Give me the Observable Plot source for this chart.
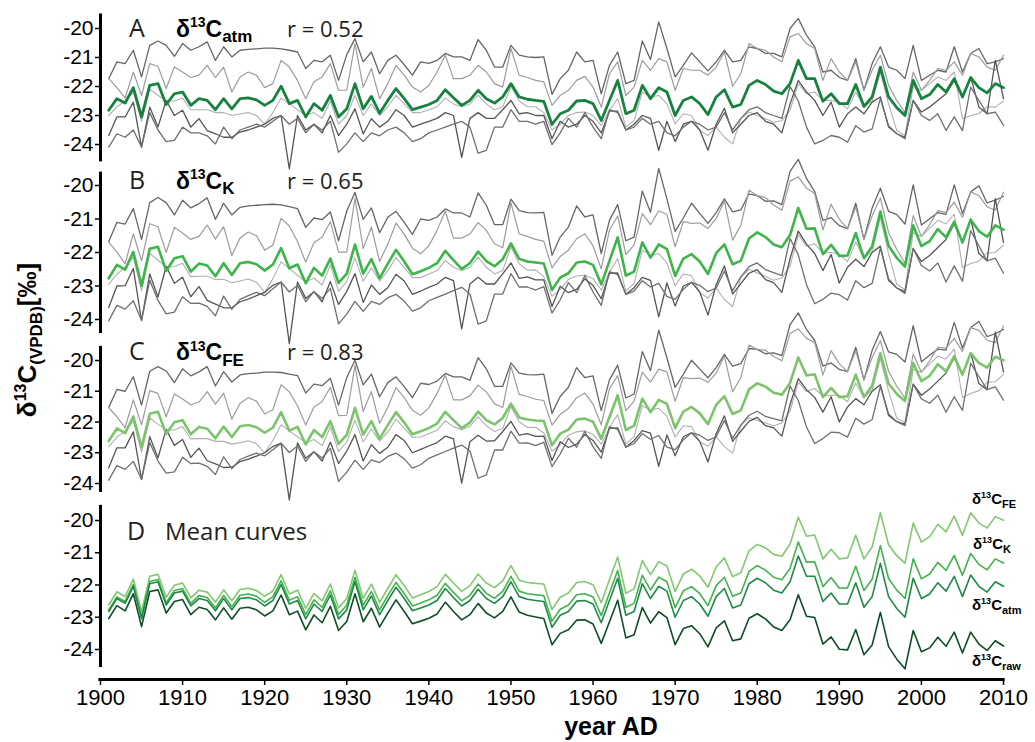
<!DOCTYPE html>
<html><head><meta charset="utf-8">
<script src="https://cdn.jsdelivr.net/npm/d3@7"></script>
<script src="https://cdn.jsdelivr.net/npm/@observablehq/plot@0.6"></script>
<style>
body{margin:0;background:#fff;}
#chart{position:relative;width:1035px;height:742px;overflow:hidden;background:#fff;}
#chart svg{position:absolute;left:0;}
</style></head><body><div id="chart"></div>
<script>
const years = d3.range(1901, 2011);
const xTicks = [1900,1910,1920,1930,1940,1950,1960,1970,1980,1990,2000,2010];
const yTicks = [-24,-23,-22,-21,-20];

// mean δ13C_atm curve (panel A green)
const meanAtm = [
-22.82,-22.42,-22.57,-22.04,-23.05,-21.96,-21.90,-22.62,-22.25,-22.19,
-22.65,-22.42,-22.48,-22.80,-22.42,-22.77,-22.42,-22.39,-22.46,-22.65,
-22.48,-21.99,-22.59,-22.48,-23.05,-22.59,-22.82,-22.31,-23.05,-22.77,
-21.90,-22.77,-22.34,-22.92,-22.48,-22.07,-22.42,-22.80,-22.71,-22.62,
-22.48,-22.11,-22.39,-22.65,-22.48,-22.13,-22.42,-22.57,-22.36,-21.90,
-22.36,-22.44,-22.48,-22.51,-23.31,-22.94,-22.82,-22.50,-22.48,-22.59,
-23.17,-22.48,-21.79,-22.94,-22.82,-21.96,-22.42,-22.04,-22.19,-23.00,
-22.48,-22.36,-22.59,-22.97,-22.36,-22.11,-22.71,-22.62,-21.96,-21.79,
-21.93,-22.16,-22.25,-21.90,-21.10,-21.73,-21.73,-22.51,-22.25,-22.59,
-22.59,-21.93,-22.69,-22.36,-21.33,-22.36,-22.73,-23.00,-21.79,-22.42,
-22.28,-21.93,-22.19,-21.73,-22.36,-21.69,-22.04,-22.22,-21.90,-22.04];

// gap δ13C_atm − δ13C_raw (panel D)
const corrAtm = [
0.22,0.22,0.23,0.23,0.24,0.24,0.25,0.25,0.26,0.26,
0.27,0.27,0.28,0.28,0.29,0.29,0.30,0.30,0.31,0.31,
0.32,0.32,0.33,0.33,0.34,0.34,0.35,0.35,0.36,0.36,
0.37,0.37,0.38,0.38,0.39,0.39,0.40,0.40,0.41,0.41,
0.42,0.42,0.43,0.43,0.44,0.44,0.45,0.45,0.46,0.47,
0.48,0.50,0.51,0.53,0.54,0.56,0.57,0.59,0.60,0.62,
0.64,0.66,0.68,0.70,0.72,0.74,0.76,0.79,0.82,0.85,
0.87,0.90,0.92,0.95,0.97,1.00,1.02,1.05,1.07,1.10,
1.12,1.14,1.16,1.18,1.20,1.24,1.28,1.32,1.36,1.40,
1.42,1.45,1.47,1.50,1.52,1.55,1.57,1.60,1.62,1.65,
1.67,1.69,1.71,1.73,1.75,1.77,1.79,1.81,1.83,1.85];

// gap δ13C_K − δ13C_atm (panel D)
const corrK = [
0.05,0.05,0.06,0.06,0.06,0.07,0.07,0.07,0.08,0.08,
0.08,0.09,0.09,0.09,0.10,0.10,0.10,0.11,0.11,0.11,
0.12,0.12,0.12,0.12,0.13,0.13,0.13,0.13,0.14,0.14,
0.14,0.14,0.14,0.15,0.15,0.15,0.15,0.15,0.15,0.16,
0.16,0.16,0.16,0.16,0.16,0.16,0.16,0.16,0.16,0.17,
0.17,0.17,0.18,0.18,0.19,0.19,0.20,0.20,0.21,0.22,
0.22,0.23,0.24,0.25,0.25,0.26,0.27,0.28,0.29,0.30,
0.30,0.31,0.32,0.33,0.34,0.35,0.36,0.37,0.38,0.39,
0.39,0.40,0.41,0.42,0.43,0.44,0.45,0.46,0.48,0.49,
0.50,0.51,0.52,0.54,0.55,0.56,0.57,0.58,0.60,0.61,
0.62,0.63,0.64,0.65,0.66,0.67,0.68,0.69,0.71,0.72];

// gap δ13C_FE − δ13C_atm (panel D)
const corrFE = [
0.20,0.21,0.21,0.22,0.22,0.23,0.23,0.24,0.24,0.25,
0.25,0.26,0.26,0.27,0.27,0.28,0.28,0.29,0.29,0.30,
0.30,0.31,0.31,0.32,0.32,0.33,0.33,0.34,0.34,0.35,
0.36,0.36,0.37,0.38,0.38,0.39,0.40,0.40,0.41,0.42,
0.43,0.44,0.45,0.45,0.46,0.47,0.48,0.49,0.49,0.50,
0.51,0.52,0.53,0.54,0.55,0.56,0.57,0.58,0.59,0.60,
0.62,0.64,0.66,0.68,0.70,0.72,0.74,0.76,0.78,0.80,
0.82,0.85,0.87,0.90,0.92,0.95,0.97,1.00,1.02,1.05,
1.08,1.11,1.14,1.17,1.20,1.24,1.28,1.32,1.36,1.40,
1.43,1.47,1.50,1.54,1.57,1.61,1.64,1.68,1.71,1.75,
1.78,1.81,1.84,1.87,1.90,1.93,1.96,1.99,2.02,2.05];

// individual trees (δ13C_atm), grey lines
const treeA = [
-21.73,-21.15,-21.21,-20.75,-21.67,-20.58,-20.43,-20.58,-20.96,-20.52,
-20.75,-20.63,-20.46,-21.10,-20.63,-20.98,-20.75,-20.72,-20.70,-20.68,
-20.68,-20.70,-20.75,-20.81,-21.38,-21.10,-21.15,-20.92,-21.79,-20.90,
-20.35,-21.15,-20.81,-21.56,-21.10,-20.92,-21.25,-21.61,-21.15,-21.20,
-21.10,-20.86,-20.98,-20.98,-21.10,-20.38,-20.75,-21.33,-21.33,-20.58,
-20.92,-20.98,-21.00,-20.98,-22.27,-21.73,-21.44,-20.81,-21.15,-21.10,
-22.25,-21.27,-20.81,-21.90,-21.79,-20.43,-21.07,-19.77,-20.69,-21.67,
-21.27,-20.84,-21.15,-21.46,-21.15,-20.75,-21.15,-21.10,-20.63,-20.69,
-20.86,-20.86,-20.98,-20.00,-19.65,-20.23,-20.63,-21.50,-21.44,-21.69,
-21.79,-21.04,-22.13,-21.21,-20.63,-21.33,-21.44,-21.73,-20.58,-21.79,
-21.61,-21.44,-21.50,-20.63,-21.50,-20.86,-20.69,-21.21,-21.15,-21.04];
const treeB = [
-21.73,-22.04,-22.39,-21.50,-22.31,-21.21,-21.30,-22.07,-21.33,-21.50,
-21.69,-21.61,-21.27,-21.69,-21.33,-22.19,-21.67,-21.50,-21.61,-22.04,
-21.90,-21.10,-21.33,-21.79,-22.42,-21.84,-21.67,-21.21,-22.13,-22.13,
-20.52,-22.02,-21.38,-22.42,-21.90,-21.27,-21.61,-22.02,-22.19,-21.96,
-21.50,-20.92,-21.73,-21.73,-21.61,-21.27,-21.50,-21.90,-22.02,-20.69,
-21.61,-21.69,-21.79,-21.84,-22.65,-22.31,-22.13,-21.79,-21.65,-22.02,
-22.71,-21.56,-21.15,-22.31,-22.02,-21.10,-21.44,-21.04,-21.15,-22.13,
-21.38,-21.44,-21.44,-21.61,-21.33,-20.81,-21.99,-21.56,-20.52,-20.69,
-20.75,-20.98,-21.15,-20.29,-20.17,-20.52,-20.69,-21.79,-21.04,-21.50,
-21.79,-21.15,-22.13,-21.44,-20.92,-21.96,-22.48,-22.90,-21.50,-22.13,
-21.79,-21.38,-21.44,-21.15,-21.61,-20.86,-20.98,-21.33,-21.44,-20.92];
const treeC = [
-23.00,-22.70,-22.50,-22.20,-23.20,-22.10,-22.30,-22.50,-22.50,-22.40,
-22.80,-22.80,-22.80,-22.90,-22.90,-23.00,-22.95,-22.90,-23.00,-23.30,
-22.90,-22.40,-22.60,-22.80,-23.00,-22.90,-23.10,-22.50,-23.30,-23.00,
-22.30,-23.00,-22.60,-23.00,-22.70,-22.30,-22.60,-22.90,-22.90,-22.80,
-22.70,-22.40,-22.60,-22.70,-22.60,-22.30,-22.60,-22.80,-22.70,-22.00,
-22.50,-22.70,-22.70,-22.90,-23.50,-23.30,-23.00,-22.90,-22.88,-23.00,
-23.34,-22.82,-22.42,-23.40,-23.17,-22.19,-22.36,-22.31,-22.60,-23.29,
-22.94,-23.00,-23.52,-23.69,-23.40,-23.75,-23.98,-23.11,-22.88,-23.00,
-23.11,-23.23,-23.17,-22.82,-21.90,-22.25,-22.19,-22.48,-22.48,-22.54,
-22.77,-22.20,-22.70,-22.50,-21.50,-22.60,-23.52,-23.69,-22.00,-22.13,
-21.90,-21.67,-21.79,-21.50,-23.11,-23.00,-22.94,-22.70,-22.71,-22.50];
const treeD = [
-23.69,-23.05,-23.05,-22.54,-24.09,-22.71,-23.40,-22.48,-23.00,-22.82,
-23.40,-23.11,-23.52,-23.63,-23.75,-23.75,-23.57,-23.50,-23.40,-23.30,
-23.10,-23.00,-24.84,-23.00,-23.50,-23.30,-23.60,-23.00,-23.69,-23.30,
-22.77,-23.63,-23.11,-23.40,-23.20,-22.80,-23.00,-23.40,-23.30,-23.20,
-23.10,-22.90,-23.00,-24.44,-23.10,-22.90,-23.10,-23.10,-22.80,-22.48,
-22.94,-22.90,-23.00,-23.00,-23.80,-23.20,-23.40,-23.30,-23.00,-23.20,
-23.60,-22.85,-22.85,-23.50,-23.30,-23.00,-23.10,-24.20,-23.20,-23.90,
-23.30,-23.20,-23.50,-24.20,-23.30,-22.75,-23.60,-23.30,-23.00,-22.90,
-23.20,-23.30,-23.60,-22.60,-21.79,-22.19,-22.48,-23.00,-22.54,-23.40,
-22.94,-22.71,-22.94,-22.54,-22.36,-23.40,-23.63,-23.75,-22.48,-22.88,
-22.71,-22.48,-22.25,-21.79,-22.36,-21.67,-22.71,-22.94,-21.10,-22.42];
const treeE = [
-24.09,-23.63,-23.75,-23.50,-24.09,-22.90,-23.50,-23.90,-23.86,-23.40,
-23.60,-23.60,-23.70,-23.98,-23.40,-23.80,-23.50,-23.40,-23.30,-23.40,
-23.20,-23.00,-23.30,-23.10,-23.60,-23.30,-23.50,-23.20,-24.27,-23.98,
-23.60,-23.90,-23.60,-23.70,-23.50,-23.40,-23.60,-23.90,-23.80,-23.60,
-23.50,-23.40,-23.30,-23.20,-23.40,-24.30,-24.20,-23.40,-23.40,-22.80,
-23.20,-23.20,-23.30,-23.20,-24.00,-23.60,-23.10,-23.40,-22.90,-23.40,
-23.80,-22.80,-22.90,-23.50,-23.40,-23.10,-23.30,-23.20,-23.60,-23.70,
-23.40,-23.20,-23.30,-23.50,-23.40,-22.90,-23.50,-23.10,-22.80,-22.70,
-22.90,-23.00,-23.10,-22.00,-22.50,-23.40,-23.98,-23.86,-23.69,-23.75,
-23.92,-23.35,-23.57,-23.46,-22.42,-23.35,-23.63,-23.80,-22.48,-23.00,
-23.17,-22.94,-23.52,-23.05,-23.52,-22.02,-22.48,-22.94,-22.88,-23.34];

const trees = [treeA, treeB, treeC, treeD, treeE];
const treeColors = ["#666666", "#9c9c9c", "#b0b0b0", "#555555", "#6f6f6f"];
const treeWidths = [1.3, 1.2, 1.1, 1.3, 1.3];

const chart = document.getElementById("chart");
const FONT = "'Liberation Sans', Arial, sans-serif";

function panel({top, height, mt, mb, domain, axisExt, shift, green, greenColor, greenWidth, extra = [], xAxis = false}) {
  const marks = [
    Plot.ruleX([1900], {y1: axisExt[0], y2: axisExt[1], stroke: "#000", strokeWidth: 3}),
    Plot.axisY({ticks: yTicks, tickFormat: d => String(d), tickSize: 5, tickPadding: 2, fontSize: 21, strokeWidth: 1.5})
  ];
  if (shift) {
    trees.forEach((t, k) => {
      marks.push(Plot.line(years, {x: d => d, y: (d, i) => t[i] + shift[i], stroke: treeColors[k], strokeWidth: treeWidths[k]}));
    });
  }
  if (green) marks.push(Plot.line(years, {x: d => d, y: (d, i) => green[i], stroke: greenColor, strokeWidth: greenWidth}));
  marks.push(...extra);
  if (xAxis) {
    marks.push(Plot.ruleY([domain[0]], {x1: 1899.8, x2: 2010.2, stroke: "#000", strokeWidth: 3}));
    marks.push(Plot.axisX({ticks: xTicks, tickFormat: d => String(d), tickSize: 6, tickPadding: 4, fontSize: 22, strokeWidth: 1.5}));
  }
  const svg = Plot.plot({
    width: 1035, height, marginTop: mt, marginBottom: mb, marginLeft: 100, marginRight: 32,
    x: {domain: [1900, 2010], axis: null},
    y: {domain, axis: null},
    style: {overflow: "visible", background: "transparent", fontFamily: FONT, fontSize: "21px", color: "#000"},
    marks
  });
  svg.style.top = top + "px";
  chart.appendChild(svg);
}

const zeros = years.map(() => 0);
const meanK = years.map((y, i) => meanAtm[i] + corrK[i]);
const meanFE = years.map((y, i) => meanAtm[i] + corrFE[i]);
const meanRaw = years.map((y, i) => meanAtm[i] - corrAtm[i]);

panel({top: 0, height: 175, mt: 28, mb: 31, domain: [-24, -20], axisExt: [-19.5, -24.6],
  shift: zeros, green: meanAtm, greenColor: "#17823f", greenWidth: 2.8});
panel({top: 150, height: 200, mt: 35, mb: 31, domain: [-24, -20], axisExt: [-19.6, -24.42],
  shift: corrK, green: meanK, greenColor: "#3db54a", greenWidth: 2.6});
panel({top: 330, height: 180, mt: 30, mb: 27, domain: [-24, -20], axisExt: [-19.54, -24.29],
  shift: corrFE, green: meanFE, greenColor: "#7cc46c", greenWidth: 2.6});
panel({top: 490, height: 252, mt: 30, mb: 63, domain: [-24.93, -20], axisExt: [-19.53, -24.56],
  shift: null, green: null, xAxis: true,
  extra: [
    Plot.line(years, {x: d => d, y: (d, i) => meanFE[i], stroke: "#82c870", strokeWidth: 1.6}),
    Plot.line(years, {x: d => d, y: (d, i) => meanK[i], stroke: "#43b24d", strokeWidth: 1.6}),
    Plot.line(years, {x: d => d, y: (d, i) => meanAtm[i], stroke: "#1d8a45", strokeWidth: 1.6}),
    Plot.line(years, {x: d => d, y: (d, i) => meanRaw[i], stroke: "#0e4d26", strokeWidth: 1.6})
  ]});

// annotations
const ns = "http://www.w3.org/2000/svg";
const ov = document.createElementNS(ns, "svg");
ov.setAttribute("width", 1035); ov.setAttribute("height", 742);
ov.style.top = "0px"; ov.style.pointerEvents = "none";
const OS = "'Open Sans', 'Noto Sans', sans-serif";
function iso(x, y, sub, big, sup, sb) {
  return `<text x="${x}" y="${y}" font-family="${FONT}" font-weight="bold" font-size="${big}" fill="#000">δ<tspan font-size="${sup}" dy="${-big*0.4}">13</tspan><tspan font-size="${big}" dy="${big*0.4}">C</tspan><tspan font-size="${sb}" dy="${big*0.24}">${sub}</tspan></text>`;
}
const panelsTxt = [
  {L: "A", y: 36.5, sub: "atm", r: "r = 0.52"},
  {L: "B", y: 188.5, sub: "K", r: "r = 0.65"},
  {L: "C", y: 360, sub: "FE", r: "r = 0.83"}
];
let html = "";
for (const p of panelsTxt) {
  html += `<text x="129" y="${p.y}" font-family="${OS}" font-size="25" fill="#231f20">${p.L}</text>`;
  html += iso(176, p.y, p.sub, 23, 14, 17);
  html += `<text x="287" y="${p.y}" font-family="${OS}" font-size="22" fill="#231f20">${p.r}</text>`;
}
html += `<text x="127" y="540" font-family="${OS}" font-size="25" fill="#231f20">D</text>`;
html += `<text x="165" y="540" font-family="${OS}" font-size="24" fill="#231f20">Mean curves</text>`;
html += iso(972, 504, "FE", 15, 9, 11);
html += iso(973, 549, "K", 15, 9, 11);
html += iso(972, 610, "atm", 15, 9, 11);
html += iso(972, 666, "raw", 15, 9, 11);
html += `<text transform="translate(36,340) rotate(-90)" text-anchor="middle" font-family="${FONT}" font-weight="bold" font-size="26" fill="#000">δ<tspan font-size="16" dy="-10">13</tspan><tspan font-size="26" dy="10">C</tspan><tspan font-size="17" dy="6">(VPDB)</tspan><tspan font-size="26" dy="-6">[‰]</tspan></text>`;
html += `<text x="611" y="735" text-anchor="middle" font-family="${FONT}" font-weight="bold" font-size="25" fill="#000">year AD</text>`;
ov.innerHTML = html;
chart.appendChild(ov);
</script>
</body></html>
